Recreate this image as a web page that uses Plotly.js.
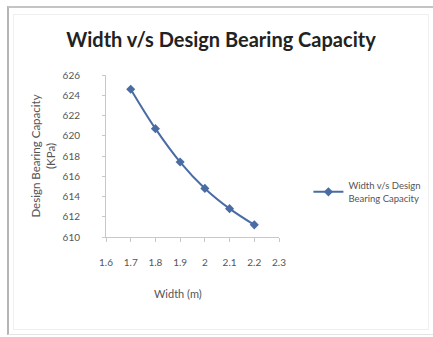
<!DOCTYPE html>
<html>
<head>
<meta charset="utf-8">
<script src="https://cdn.plot.ly/plotly-3.0.1.min.js"></script>
<style>
html,body{margin:0;padding:0;background:#fff;}
#wrap{position:relative;width:433px;height:337px;overflow:hidden;}
#chart{position:absolute;left:0;top:0;width:433px;height:337px;}
#frame{position:absolute;left:7px;top:6px;width:424px;height:326px;border-left:2px solid #b5b5b5;border-top:2px solid #c4c4c4;border-right:1px solid #e0e0e0;border-bottom:1px solid #e4e4e4;pointer-events:none;}
#inner{position:absolute;left:13px;top:14px;width:414px;height:314px;border:1px solid #efefef;pointer-events:none;}
</style>
</head>
<body>
<div id="wrap">
<div id="chart"></div>
<div id="frame"></div>
<div id="inner"></div>
</div>
<script>
const widths = [1.7, 1.8, 1.9, 2.0, 2.1, 2.2];
const capacity = [624.6, 620.7, 617.4, 614.8, 612.8, 611.2];
const seriesName = "Width v/s Design<br>Bearing Capacity";
const xTickVals = [1.6, 1.7, 1.8, 1.9, 2.0, 2.1, 2.2, 2.3];
const xTickText = ["1.6", "1.7", "1.8", "1.9", "2", "2.1", "2.2", "2.3"];
const yTickVals = [610, 612, 614, 616, 618, 620, 622, 624, 626];

const font = "Lato, sans-serif";
const trace = {
  x: widths, y: capacity, name: seriesName, type: "scatter", mode: "lines+markers",
  line: {color: "#4A6CA5", width: 2, shape: "spline"},
  marker: {symbol: "diamond", size: 7, color: "#4A6CA5"}
};
const layout = {
  width: 433, height: 337,
  margin: {l: 106, r: 154, t: 75, b: 100, autoexpand: false},
  paper_bgcolor: "#fff", plot_bgcolor: "#fff",
  showlegend: true,
  title: {text: "<b>Width v/s Design Bearing Capacity</b>", font: {family: font, size: 20, color: "#222"}, x: 221/433, xanchor: "center", y: 1 - 40/337, yanchor: "middle"},
  xaxis: {range: [1.6, 2.3], tickvals: xTickVals, ticktext: xTickText, showgrid: false, zeroline: false,
    showline: true, linecolor: "#c8c8c8", linewidth: 1, ticks: "outside", ticklen: 4, tickcolor: "#c8c8c8",
    tickfont: {family: font, size: 10, color: "#555"}, ticklabelstandoff: 12},
  yaxis: {range: [610, 626], tickvals: yTickVals, showgrid: false, zeroline: false,
    showline: true, linecolor: "#c8c8c8", linewidth: 1, ticks: "outside", ticklen: 3, tickcolor: "#c8c8c8",
    tickfont: {family: font, size: 10, color: "#555"}, ticklabelstandoff: 20,
    title: {text: "Design Bearing Capacity<br>(KPa)", font: {family: font, size: 11.5, color: "#555"}, standoff: 4}},
  annotations: [{text: "Width (m)", xref: "paper", yref: "paper", x: (178-106)/173, y: -(293-237)/162,
    xanchor: "center", yanchor: "middle", showarrow: false, font: {family: font, size: 11, color: "#555"}}],
  legend: {x: 1.17, xanchor: "left", y: (337-100-192)/162, yanchor: "middle", font: {family: font, size: 9.5, color: "#555"}, bgcolor: "rgba(0,0,0,0)"}
};
Plotly.newPlot("chart", [trace], layout, {displayModeBar: false, staticPlot: true});
</script>
</body>
</html>
